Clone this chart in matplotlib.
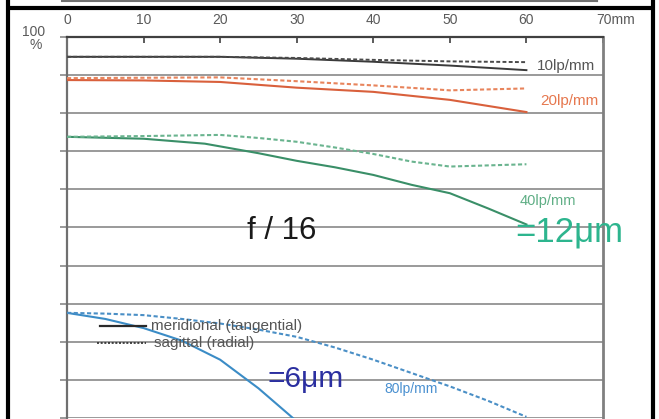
import matplotlib
matplotlib.use("Agg")
import matplotlib.pyplot as plt
from matplotlib.lines import Line2D
from matplotlib.transforms import ScaledTranslation

plt.rcParams['font.family'] = ['Liberation Sans', 'DejaVu Sans']

# Image height (mm from centre) and MTF contrast (%) for f/16
x_10 = [0, 10, 20, 30, 40, 50, 60]
mer_10 = [94.8, 94.8, 94.8, 94.3, 93.5, 92.5, 91.3]
sag_10 = [94.8, 94.8, 94.8, 94.5, 94.0, 93.6, 93.4]

x_20 = [0, 10, 20, 30, 40, 50, 60]
mer_20 = [88.7, 88.6, 88.2, 86.7, 85.6, 83.5, 80.3]
sag_20 = [89.2, 89.3, 89.4, 88.4, 87.3, 86.0, 86.5]

x_40_mer = [0, 10, 18, 25, 30, 35, 40, 45, 50, 55, 60]
mer_40 = [73.8, 73.3, 72.0, 69.5, 67.5, 65.8, 63.8, 61.2, 59.0, 55.0, 50.8]
x_40_sag = [0, 10, 20, 25, 30, 35, 40, 45, 50, 55, 60]
sag_40 = [73.8, 74.0, 74.3, 73.5, 72.5, 71.0, 69.3, 67.3, 66.0, 66.3, 66.6]

x_80_mer = [0, 5, 10, 15, 20, 25, 29.5]
mer_80 = [27.6, 26.0, 23.6, 20.3, 15.3, 7.8, 0.0]
x_80_sag = [0, 5, 10, 15, 20, 25, 30, 35, 40, 45, 50, 55, 60]
sag_80 = [27.6, 27.4, 27.0, 26.0, 24.8, 23.2, 21.3, 18.5, 15.3, 11.8, 8.3, 4.5, 0.3]

x_ticks = [0, 10, 20, 30, 40, 50, 60, 70]
x_tick_labels = ['0', '10', '20', '30', '40', '50', '60', '70mm']
y_grid = [0, 10, 20, 30, 40, 50, 60, 70, 80, 90, 100]

W, H = 659, 419
fig = plt.figure(figsize=(W / 100, H / 100), dpi=100)
fig.patch.set_facecolor('white')

def fx(px):
    return px / W

def fy(py):
    return 1 - py / H

ax = fig.add_axes([fx(67), fy(418), fx(603) - fx(67), fy(37) - fy(418)])
ax.set_xlim(0, 70)
ax.set_ylim(0, 100)

# horizontal grid
for g in y_grid:
    ax.axhline(g, color='#9a9a9a', lw=1.4, zorder=1)

dash = (0, (2.0, 1.2))
ax.plot(x_10, mer_10, color='#3a3a3a', lw=1.4, zorder=3)
ax.plot(x_10, sag_10, color='#4a4a4a', lw=1.4, ls=dash, zorder=3)
ax.plot(x_20, mer_20, color='#d9603c', lw=1.5, zorder=3)
ax.plot(x_20, sag_20, color='#e8845c', lw=1.5, ls=dash, zorder=3)
ax.plot(x_40_mer, mer_40, color='#3a8f68', lw=1.5, zorder=3)
ax.plot(x_40_sag, sag_40, color='#6ab48f', lw=1.5, ls=dash, zorder=3)
ax.plot(x_80_mer, mer_80, color='#3b8cc6', lw=1.5, zorder=3)
ax.plot(x_80_sag, sag_80, color='#4a8fc6', lw=1.5, ls=dash, zorder=3)

# spines
ax.spines['bottom'].set_visible(False)
ax.spines['top'].set_color('#404040')
ax.spines['top'].set_linewidth(1.6)
ax.spines['left'].set_color('#707070')
ax.spines['left'].set_linewidth(1.6)
ax.spines['right'].set_color('#808080')
ax.spines['right'].set_linewidth(2.0)

ax.xaxis.tick_top()
ax.set_xticks(x_ticks)
ax.set_xticklabels(x_tick_labels)
ax.tick_params(axis='x', which='both', direction='in', length=4, width=1.2,
               color='#404040', pad=7.5, labelsize=10, labelcolor='#5a5a5a',
               bottom=False, top=True)
last = ax.get_xticklabels()[-1]
last.set_horizontalalignment('left')
last.set_transform(last.get_transform() + ScaledTranslation(-7 / 100, 0, fig.dpi_scale_trans))

ax.set_yticks(y_grid)
ax.set_yticklabels([])
ax.tick_params(axis='y', direction='out', length=5, width=1.4, color='#9a9a9a')

fig.text(fx(45), fy(32), '100', ha='right', va='center', fontsize=10, color='#5a5a5a')
fig.text(fx(36), fy(45), '%', ha='center', va='center', fontsize=10, color='#5a5a5a')

# curve labels
ax.text(61.4, 92.4, '10lp/mm', ha='left', va='center', fontsize=11, color='#555555')
ax.text(61.8, 83.3, '20lp/mm', ha='left', va='center', fontsize=11, color='#e6784f')
ax.text(59.1, 57.0, '40lp/mm', ha='left', va='center', fontsize=10.5, color='#5fae85')
ax.text(41.4, 7.5, '80lp/mm', ha='left', va='center', fontsize=10, color='#4a90d0')

ax.text(28.0, 49.0, 'f / 16', ha='center', va='center', fontsize=22.5, color='#1a1a1a')
ax.text(58.6, 48.8, '=12μm', ha='left', va='center', fontsize=25, color='#2db58e')
ax.text(26.2, 10.2, '=6μm', ha='left', va='center', fontsize=21.5, color='#2b2fa0')

# line-style key
ax.plot([4.3, 10.3], [24.2, 24.2], color='#2a2a2a', lw=1.6, zorder=4)
ax.text(11.0, 24.2, 'meridional (tangential)', ha='left', va='center', fontsize=11,
        color='#555555', zorder=4)
ax.plot([3.9, 10.3], [19.7, 19.7], color='#2a2a2a', lw=1.2, ls=(0, (1.2, 1.0)), zorder=4)
ax.text(11.4, 19.7, 'sagittal (radial)', ha='left', va='center', fontsize=11,
        color='#555555', zorder=4)

# surrounding page frame
frame = dict(color='black', lw=3, transform=fig.transFigure, solid_capstyle='butt')
fig.add_artist(Line2D([fx(7.5), fx(7.5)], [0, 1], **frame))
fig.add_artist(Line2D([fx(653), fx(653)], [0, 1], **frame))
fig.add_artist(Line2D([fx(7.5), fx(653)], [fy(8.5), fy(8.5)], **frame))
fig.add_artist(Line2D([fx(62), fx(597)], [fy(1.5), fy(1.5)], color='#707070', lw=1.5,
                      transform=fig.transFigure))
fig.add_artist(Line2D([fx(597), fx(597)], [fy(1.5), 1], color='#707070', lw=1.5,
                      transform=fig.transFigure))

fig.savefig('out.png', dpi=100, facecolor='white')
